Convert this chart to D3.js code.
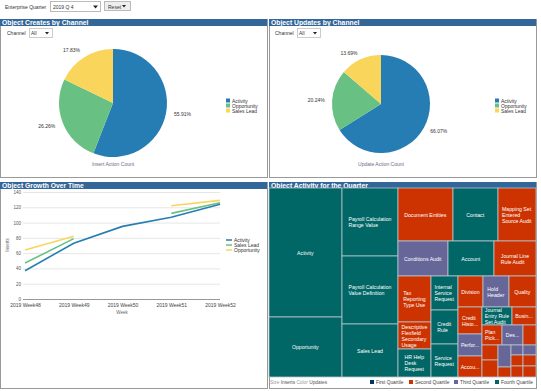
<!DOCTYPE html>
<html><head><meta charset="utf-8">
<script src="https://cdn.jsdelivr.net/npm/d3@7"></script>
<style>
body{margin:0;background:#fff;font-family:"Liberation Sans",Arial,sans-serif;}
svg{display:block}
</style></head>
<body>
<svg id="c" width="541" height="391"></svg>
<script>
// ---------- DATA ----------
const channels = ["Activity", "Opportunity", "Sales Lead"];
const createShares = [55.91, 26.26, 17.83];
const updateShares = [66.07, 20.24, 13.69];

const weeks = ["2019 Week48", "2019 Week49", "2019 Week50", "2019 Week51", "2019 Week52"];
const lineSeries = ["Activity", "Sales Lead", "Opportunity"];
const activityInserts = [37, 73, 95, 107, 124];
const salesLeadInserts = [47, 79, null, 112, 126];
const opportunityInserts = [64, 82, null, 122, 129];
const yTicks = [0, 20, 40, 60, 80, 100, 120, 140];

const tmNames = ["Activity","Opportunity","Payroll Calculation Range Value","Payroll Calculation Value Definition","Sales Lead",
  "Document Entities","Contact","Mapping Set Entered Source Audit","Conditions Audit","Account","Journal Line Rule Audit",
  "Tax Reporting Type Use","Descriptive Flexfield Secondary Usage","HR Help Desk Request","Internal Service Request","Credit Rule","Service Request",
  "Division","Hold Header","Quality","Credit History","Performance","Account Snapshot","Journal Entry Rule Set Audit","Business Unit","Plan Pick","Deal",
  "s1","s2","s3","s4","s5","s6","s7","s8","s9","s10","s11"];
const tmValues = [9417,4380,3808,3808,2968,2915,2385,2014,1750,1610,1470,1518,891,924,918,918,891,
  775,806,837,648,528,504,540,432,400,420,260,240,272,286,130,120,130,132,143,132,143];
const tmQuartile = [4,4,4,4,4,2,4,2,3,4,2,2,2,4,4,4,4,2,3,2,2,3,2,4,2,2,3,2,2,2,3,2,3,3,2,2,2,2];
const tmLabels = [["Activity"],["Opportunity"],["Payroll Calculation","Range Value"],["Payroll Calculation","Value Definition"],["Sales Lead"],
  ["Document Entities"],["Contact"],["Mapping Set","Entered","Source Audit"],["Conditions Audit"],["Account"],["Journal Line","Rule Audit"],
  ["Tax","Reporting","Type Use"],["Descriptive","Flexfield","Secondary","Usage"],["HR Help","Desk","Request"],["Internal","Service","Request"],["Credit","Rule"],["Service","Request"],
  ["Division"],["Hold","Header"],["Quality"],["Credit","Histo..."],["Perfor..."],["Accou..."],["Journal","Entry Rule","Set Audit"],["Busin..."],["Plan","Pick..."],["Des..."],
  [],[],[],[],[],[],[],[],[],[],[]];
const quartileNames = ["First Quartile","Second Quartile","Third Quartile","Fourth Quartile"];

// ---------- LAYOUT STRUCTURE (strip nesting of the treemap, indices into tmNames) ----------
const tmNesting = {d:"x", c:[
  {d:"y", c:[0,1]},
  {d:"y", c:[2,3,4]},
  {d:"y", c:[
    {d:"x", c:[5,6,7]},
    {d:"x", c:[8,9,10]},
    {d:"x", c:[
      {d:"y", c:[11,12,13]},
      {d:"y", c:[14,15,16]},
      {d:"y", c:[
        {d:"x", c:[17,18,19]},
        {d:"x", c:[
          {d:"y", c:[20,21,22]},
          {d:"y", c:[
            {d:"x", c:[23,24]},
            {d:"y", c:[
              {d:"x", c:[25,26,27]},
              {d:"x", c:[
                {d:"y", c:[28,29]},
                {d:"y", c:[30,31]},
                {d:"y", c:[{d:"x",c:[32,33]},{d:"x",c:[34,35]},{d:"x",c:[36,37]}]}
              ]}
            ]}
          ]}
        ]}
      ]}
    ]}
  ]}
]};

// ---------- STYLE ----------
const chColors = {"Activity":"#267db3","Opportunity":"#68c182","Sales Lead":"#fad55c"};
const lineColors = {"Activity":"#267db3","Sales Lead":"#68c182","Opportunity":"#fad55c"};
const qColors = ["#003366","#cc3300","#666699","#006666"];
const headerColor = "#336699";
const svg = d3.select("#c");
const F = '"Liberation Sans",Arial,sans-serif';

// ---------- TOP BAR ----------
svg.append("text").attr("x",5).attr("y",9).attr("font-size",5).attr("fill","#333").text("Enterprise Quarter");
svg.append("rect").attr("x",50.5).attr("y",1.5).attr("width",50).attr("height",10).attr("fill","#fff").attr("stroke","#bbb");
svg.append("text").attr("x",53).attr("y",9).attr("font-size",5).attr("fill","#333").text("2019 Q 4");
svg.append("path").attr("d","M93,5.5 L98,5.5 L95.5,8.5 Z").attr("fill","#222");
svg.append("rect").attr("x",104.5).attr("y",1.5).attr("width",26).attr("height",9).attr("fill","#eee").attr("stroke","#bbb");
svg.append("text").attr("x",108).attr("y",8.5).attr("font-size",5).attr("fill","#333").text("Reset");
svg.append("path").attr("d","M122,5 L126,5 L124,7.5 Z").attr("fill","#222");

// ---------- PANEL FRAMES ----------
const panels = [
  {x:0,y:19,w:268,h:159,title:"Object Creates by Channel"},
  {x:269,y:19,w:268,h:159,title:"Object Updates by Channel"},
  {x:0,y:182,w:268,h:207,title:"Object Growth Over Time"},
  {x:269,y:182,w:268,h:207,title:"Object Activity for the Quarter"}
];
panels.forEach(p=>{
  svg.append("rect").attr("x",p.x+0.5).attr("y",p.y+0.5).attr("width",p.w-1).attr("height",p.h-1)
    .attr("fill","none").attr("stroke","#999");
  svg.append("rect").attr("x",p.x).attr("y",p.y).attr("width",p.w-1).attr("height",7).attr("fill",headerColor);
  svg.append("text").attr("x",p.x+2).attr("y",p.y+6).attr("font-size",6.8).attr("font-weight","bold")
    .attr("fill","#fff").text(p.title);
});

// ---------- PIES ----------
function channelSelect(x){
  svg.append("text").attr("x",x).attr("y",35).attr("font-size",5).attr("fill","#333").text("Channel");
  svg.append("rect").attr("x",x+22.5).attr("y",28.5).attr("width",23).attr("height",9).attr("fill","#fff").attr("stroke","#ccc");
  svg.append("text").attr("x",x+24).attr("y",35).attr("font-size",5).attr("fill","#333").text("All");
  svg.append("path").attr("d",`M${x+38},32 L${x+42},32 L${x+40},34.5 Z`).attr("fill","#222");
}
function drawPie(cx, cy, r, shares, footer, legendX){
  const pie = d3.pie().sort(null).value(d=>d.v);
  const data = pie(channels.map((c,i)=>({c, v:shares[i]})));
  const arc = d3.arc().innerRadius(0).outerRadius(r);
  const g = svg.append("g").attr("transform",`translate(${cx},${cy})`);
  g.selectAll("path").data(data).join("path").attr("d",arc).attr("fill",d=>chColors[d.data.c]);
  const lab = d3.arc().innerRadius(r*1.15).outerRadius(r*1.15);
  g.selectAll("text").data(data).join("text")
    .attr("x",d=>lab.centroid(d)[0]).attr("y",d=>lab.centroid(d)[1]+2)
    .attr("text-anchor",d=>((d.startAngle+d.endAngle)/2 < Math.PI)?"start":"end")
    .attr("font-size",5).attr("fill","#333").text(d=>d.data.v.toFixed(2)+"%");
  svg.append("text").attr("x",cx).attr("y",166).attr("text-anchor","middle").attr("font-size",5)
    .attr("fill","#6b6b8a").text(footer);
  channels.forEach((c,i)=>{
    svg.append("rect").attr("x",legendX).attr("y",98.5+i*5).attr("width",4).attr("height",4).attr("fill",chColors[c]);
    svg.append("text").attr("x",legendX+6).attr("y",102.5+i*5).attr("font-size",5).attr("fill","#333").text(c);
  });
}
channelSelect(7);
channelSelect(275);
drawPie(113,103,54,createShares,"Insert Action Count",226);
drawPie(381,104,49,updateShares,"Update Action Count",495);

// ---------- LINE CHART ----------
const x = d3.scalePoint().domain(weeks).range([25,220]);
const y = d3.scaleLinear().domain([0,140]).range([299,192]);
const lg = svg.append("g");
lg.selectAll("line.grid").data(yTicks).join("line").attr("class","grid")
  .attr("x1",23).attr("x2",220).attr("y1",d=>y(d)+0.5).attr("y2",d=>y(d)+0.5)
  .attr("stroke",d=>d===0?"#999":"#e6e6e6").attr("stroke-width",1);
const yAxis = lg.append("g").attr("transform","translate(23,0)")
  .call(d3.axisLeft(y).tickValues(yTicks).tickSize(0).tickPadding(2));
yAxis.select(".domain").remove();
yAxis.selectAll("text").attr("font-size",4.5).attr("fill","#555").attr("font-family",F);
const xAxis = lg.append("g").attr("transform","translate(0,299)")
  .call(d3.axisBottom(x).tickSize(0).tickPadding(4));
xAxis.select(".domain").remove();
xAxis.selectAll("text").attr("font-size",5).attr("fill","#444").attr("font-family",F);
svg.append("text").attr("x",122).attr("y",314).attr("text-anchor","middle").attr("font-size",4.5).attr("fill","#666").text("Week");
svg.append("text").attr("transform","translate(9,245) rotate(-90)").attr("text-anchor","middle").attr("font-size",4.5).attr("fill","#666").text("Inserts");
const seriesVals = {"Activity":activityInserts,"Sales Lead":salesLeadInserts,"Opportunity":opportunityInserts};
const line = d3.line().defined(d=>d.v!=null).x(d=>x(d.w)).y(d=>y(d.v));
lineSeries.slice().reverse().forEach(s=>{
  lg.append("path").datum(weeks.map((w,i)=>({w, v:seriesVals[s][i]})))
    .attr("d",line).attr("fill","none").attr("stroke",lineColors[s]).attr("stroke-width",1.6);
});
lineSeries.forEach((s,i)=>{
  svg.append("line").attr("x1",226).attr("x2",232).attr("y1",240+i*5).attr("y2",240+i*5).attr("stroke",lineColors[s]).attr("stroke-width",1.5);
  svg.append("text").attr("x",234).attr("y",241.8+i*5).attr("font-size",5).attr("fill","#333").text(s);
});

// ---------- TREEMAP ----------
const root = d3.hierarchy(tmNesting, n => n.c ? n.c.map(ch => typeof ch === "number" ? {leaf: ch} : ch) : null)
  .sum(d => d.leaf !== undefined ? tmValues[d.leaf] : 0);
const stripTile = (node, x0, y0, x1, y1) =>
  (node.data.d === "x" ? d3.treemapDice : d3.treemapSlice)(node, x0, y0, x1, y1);
d3.treemap().tile(stripTile).size([267,189]).round(false)(root);
const tg = svg.append("g").attr("transform","translate(269,188)");
const cells = tg.selectAll("g").data(root.leaves()).join("g");
cells.append("rect").attr("x",d=>d.x0).attr("y",d=>d.y0).attr("width",d=>d.x1-d.x0).attr("height",d=>d.y1-d.y0)
  .attr("fill",d=>qColors[tmQuartile[d.data.leaf]-1]).attr("stroke","#b9c3cc").attr("stroke-width",0.8);
cells.each(function(d){
  const lines = tmLabels[d.data.leaf]; if(!lines.length) return;
  const cx=(d.x0+d.x1)/2, cy=(d.y0+d.y1)/2, lh=6;
  const t = d3.select(this).append("text").attr("font-size",5.2).attr("fill","#fff");
  lines.forEach((s,i)=>t.append("tspan").attr("x",cx).attr("y",cy+(i-(lines.length-1)/2)*lh+2).text(s));
  const bb = t.node().getBBox();
  t.selectAll("tspan").attr("x",cx-bb.width/2);
});
// treemap legend
const lgY = 384;
svg.append("text").attr("x",270).attr("y",lgY).attr("font-size",4.8).attr("fill","#999").text("Size")
  .append("tspan").attr("fill","#555").text(" Inserts ").append("tspan").attr("fill","#999").text(" Color ")
  .append("tspan").attr("fill","#555").text(" Updates");
const qx = [370,409,454,495];
quartileNames.forEach((q,i)=>{
  svg.append("rect").attr("x",qx[i]).attr("y",lgY-4).attr("width",4).attr("height",4).attr("fill",qColors[i]);
  svg.append("text").attr("x",qx[i]+6).attr("y",lgY).attr("font-size",4.8).attr("fill","#444").text(q);
});
</script>
</body></html>
